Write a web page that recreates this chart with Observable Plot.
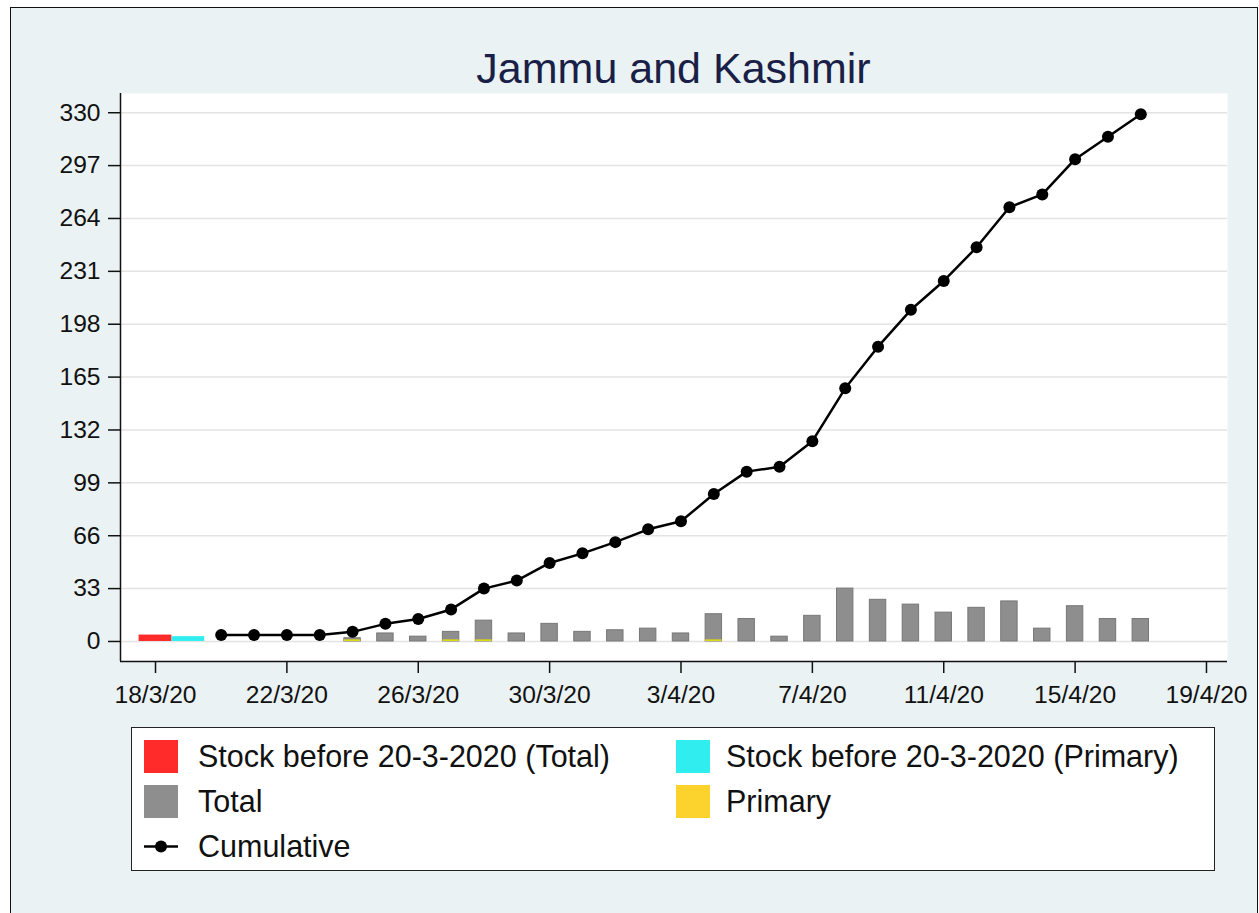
<!DOCTYPE html>
<html>
<head>
<meta charset="utf-8">
<script src="https://cdn.jsdelivr.net/npm/d3@7"></script>
<script src="https://cdn.jsdelivr.net/npm/@observablehq/plot@0.6"></script>
<style>
  html, body { margin: 0; padding: 0; overflow: hidden; background: #ffffff; }
  #page { position: relative; width: 1259px; height: 913px; font-family: "Liberation Sans", Arial, sans-serif; }
  #bg { position: absolute; left: 10px; top: 7px; width: 1246px; height: 920px; background: #eaf2f3; border: 1px solid #111; }
  #title { position: absolute; left: 0; top: 47px; width: 1347px; text-align: center; font-size: 43px; line-height: 43px; color: #1a1f48; }
  #chart { position: absolute; left: 0; top: 0; }
  #legend { position: absolute; left: 131px; top: 727px; width: 1082px; height: 142px; background: #fff; border: 1.5px solid #222; }
  .item { position: absolute; height: 34px; display: flex; align-items: center; font-size: 30.5px; color: #111; white-space: nowrap; }
  .sw { width: 34px; height: 33px; flex: none; }
</style>
</head>
<body>
<div id="page">
  <div id="bg"></div>
  <div id="title">Jammu and Kashmir</div>
  <div id="chart"></div>
  <div id="legend"></div>
</div>
<script>
// ---- data ----
const dates = [
  "2020-03-20","2020-03-21","2020-03-22","2020-03-23","2020-03-24","2020-03-25","2020-03-26",
  "2020-03-27","2020-03-28","2020-03-29","2020-03-30","2020-03-31","2020-04-01","2020-04-02",
  "2020-04-03","2020-04-04","2020-04-05","2020-04-06","2020-04-07","2020-04-08","2020-04-09",
  "2020-04-10","2020-04-11","2020-04-12","2020-04-13","2020-04-14","2020-04-15","2020-04-16","2020-04-17"
];
const totalDaily   = [0,0,0,0,2,5,3,6,13,5,11,6,7,8,5,17,14,3,16,33,26,23,18,21,25,8,22,14,14];
const primaryDaily = [0,0,0,0,1,0,0,1,1,0,0,0,0,0,0,1,0,0,0,0,0,0,0,0,0,0,0,0,0];
const cumulative   = [4,4,4,4,6,11,14,20,33,38,49,55,62,70,75,92,106,109,125,158,184,207,225,246,271,279,301,315,329];

const stockTotalDate = "2020-03-18";
const stockTotalValue = 4;
const stockPrimaryDate = "2020-03-19";
const stockPrimaryValue = 3;

const yTicks = [0,33,66,99,132,165,198,231,264,297,330];
const xTickDates = ["2020-03-18","2020-03-22","2020-03-26","2020-03-30","2020-04-03","2020-04-07","2020-04-11","2020-04-15","2020-04-19"];
const xTickLabels = ["18/3/20","22/3/20","26/3/20","30/3/20","3/4/20","7/4/20","11/4/20","15/4/20","19/4/20"];

const legendItems = [
  {label: "Stock before 20-3-2020 (Total)", color: "#ff2a2a", kind: "box"},
  {label: "Stock before 20-3-2020 (Primary)", color: "#30eef0", kind: "box"},
  {label: "Total", color: "#8e8e8e", kind: "box"},
  {label: "Primary", color: "#fcd22c", kind: "box"},
  {label: "Cumulative", color: "#000000", kind: "line"}
];

// ---- build ----
const parse = d3.utcParse("%Y-%m-%d");
const DAY = 864e5;
const rows = dates.map((d, i) => ({date: parse(d), total: totalDaily[i], primary: primaryDaily[i], cum: cumulative[i]}));
const stockRows = [
  {date: parse(stockTotalDate), value: stockTotalValue, color: legendItems[0].color},
  {date: parse(stockPrimaryDate), value: stockPrimaryValue, color: legendItems[1].color}
];
const xTicks = xTickDates.map(parse);
const xDomain = [new Date(+xTicks[0] - 1.066 * DAY), new Date(+xTicks[xTicks.length - 1] + 0.64 * DAY)];
const yDomain = [-12.5, 342];

const half = f => d => new Date(+d.date + f * DAY);

const chart = Plot.plot({
  width: 1259,
  height: 720,
  marginLeft: 120,
  marginRight: 32,
  marginTop: 93,
  marginBottom: 59,
  style: {background: "transparent", fontFamily: "'Liberation Sans', Arial, sans-serif", fontSize: "24.6px", color: "#111"},
  x: {type: "utc", domain: xDomain, ticks: xTicks, tickFormat: (d, i) => xTickLabels[i], tickSize: 12, tickPadding: 12, label: null},
  y: {domain: yDomain, ticks: yTicks, tickSize: 12, tickPadding: 8, label: null},
  marks: [
    Plot.frame({fill: "#ffffff", stroke: null}),
    Plot.gridY(yTicks, {stroke: "#e3e3e3", strokeOpacity: 1, strokeWidth: 1.5}),
    Plot.rectY(stockRows, {x1: half(-0.5), x2: half(0.5), y1: 0, y2: "value", fill: "color"}),
    Plot.rectY(rows.filter(d => d.total > 0), {x1: half(-0.25), x2: half(0.25), y1: 0, y2: "total", fill: "#8e8e8e", stroke: "#777", strokeWidth: 1}),
    Plot.rectY(rows.filter(d => d.primary > 0), {x1: half(-0.25), x2: half(0.25), y1: 0, y2: "primary", fill: "#e2dc10"}),
    Plot.line(rows, {x: "date", y: "cum", stroke: "#000", strokeWidth: 2.5}),
    Plot.dot(rows, {x: "date", y: "cum", r: 6, fill: "#000", stroke: null}),
    Plot.ruleX([xDomain[0]], {stroke: "#111", strokeWidth: 1.5}),
    Plot.ruleY([yDomain[0]], {stroke: "#111", strokeWidth: 1.5})
  ]
});
chart.querySelectorAll("g[aria-label='x-axis tick'], g[aria-label='y-axis tick']").forEach(g => { g.setAttribute("stroke", "#111"); g.setAttribute("stroke-width", "1.5"); });
document.getElementById("chart").appendChild(chart);

// ---- legend ----
const legend = document.getElementById("legend");
const positions = [[12, 11, 20], [544, 11, 16], [12, 56, 20], [544, 56, 16], [12, 101, 20]];
legendItems.forEach((it, i) => {
  const el = document.createElement("div");
  el.className = "item";
  el.style.left = positions[i][0] + "px";
  el.style.top = positions[i][1] + "px";
  let sw;
  if (it.kind === "box") {
    sw = document.createElement("div");
    sw.className = "sw";
    sw.style.background = it.color;
  } else {
    sw = document.createElementNS("http://www.w3.org/2000/svg", "svg");
    sw.setAttribute("width", 34); sw.setAttribute("height", 33);
    sw.style.flex = "none";
    sw.innerHTML = `<line x1="0" y1="16.5" x2="34" y2="16.5" stroke="${it.color}" stroke-width="2.5"/><circle cx="17" cy="16.5" r="6" fill="${it.color}"/>`;
  }
  sw.style.marginRight = positions[i][2] + "px";
  el.appendChild(sw);
  const t = document.createElement("span");
  t.textContent = it.label;
  el.appendChild(t);
  legend.appendChild(el);
});
</script>
</body>
</html>
